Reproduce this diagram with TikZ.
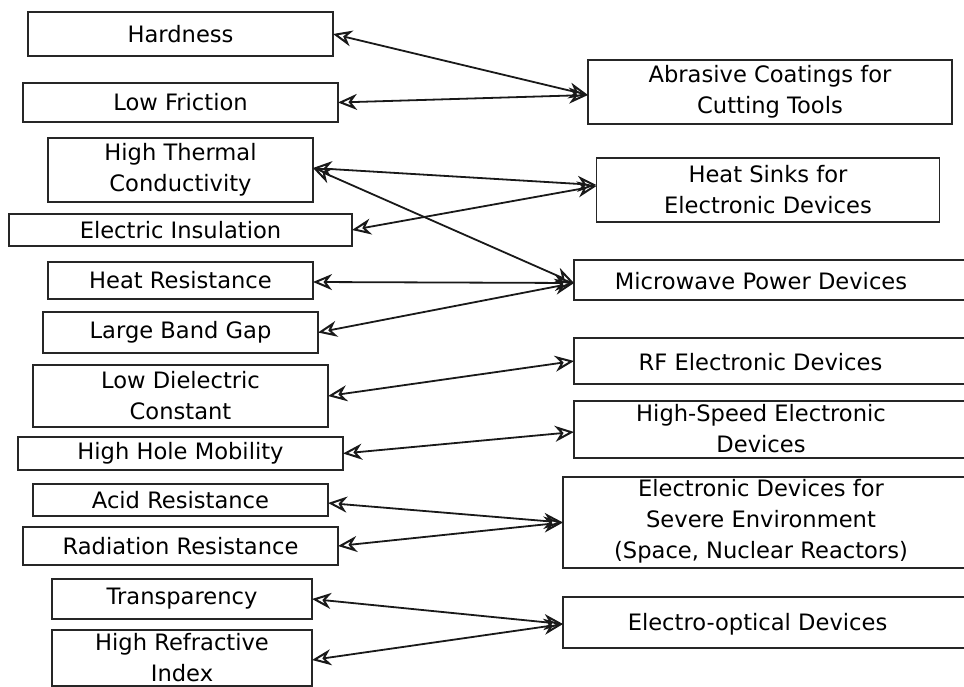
\documentclass[tikz,border=0pt]{standalone}
\usepackage{fontspec}
\setmainfont{DejaVu Sans}
\usetikzlibrary{arrows.meta}
\newcommand\diagfont{\fontsize{22.6}{31}\selectfont}
\begin{document}
\begin{tikzpicture}[x=1pt,y=-1pt,
  bx/.style={draw=black!85, line width=1.8pt, inner sep=0pt, outer sep=0pt, align=center, font=\diagfont, rectangle},
  lbl/.style={inner sep=0pt, align=center, font=\diagfont},
  conn/.style={line width=1.8pt, black!90,
    {Stealth[open,length=19pt,width=16pt,inset=6pt,line width=2pt]}-{Stealth[open,length=19pt,width=16pt,inset=6pt,line width=2pt]}}]
\useasboundingbox (0,0) rectangle (964,687);
% left boxes
\node[bx, minimum width=305, minimum height=44] (hard) at (180.5,34) {Hardness};
\node[bx, minimum width=315, minimum height=39] (fric) at (180.5,102.5) {Low Friction};
\node[bx, minimum width=265, minimum height=64] (therm) at (180.5,170) {High Thermal\\Conductivity};
\node[bx, minimum width=343, minimum height=32] (ins) at (180.5,230) {Electric Insulation};
\node[bx, minimum width=265, minimum height=37] (heat) at (180.5,280.5) {Heat Resistance};
\node[bx, minimum width=275, minimum height=41] (gap) at (180.5,332.5) {Large Band Gap};
\node[bx, minimum width=295, minimum height=62] (diel) at (180.5,396) {Low Dielectric\\Constant};
\node[bx, minimum width=325, minimum height=33] (hole) at (180.5,453.5) {High Hole Mobility};
\node[bx, minimum width=295, minimum height=32] (acid) at (180.5,500) {Acid Resistance};
\node[bx, minimum width=315, minimum height=38] (rad) at (180.5,546) {Radiation Resistance};
\node[bx, minimum width=260, minimum height=40] (trans) at (182,599) {Transparency};
\node[bx, minimum width=260, minimum height=56] (refr) at (182,658) {High Refractive\\Index};
% right boxes
\node[bx, minimum width=364, minimum height=64] (abr) at (770,92) {Abrasive Coatings for\\Cutting Tools};
\node[bx, minimum width=343, minimum height=64] (sink) at (768,190) {Heat Sinks for\\Electronic Devices};
\node[bx, minimum width=411, minimum height=40] (micro) at (779.5,280) {};
\node[lbl] (microtext) at (761,281) {Microwave Power Devices};
\node[bx, minimum width=411, minimum height=46] (rf) at (779.5,361) {};
\node[lbl] (rftext) at (760.5,362) {RF Electronic Devices};
\node[bx, minimum width=411, minimum height=57] (speed) at (779.5,429.5) {};
\node[lbl] (speedtext) at (761,429) {High-Speed Electronic\\Devices};
\node[bx, minimum width=422, minimum height=91] (severe) at (774,522.5) {};
\node[lbl] (severetext) at (761,521) {Electronic Devices for\\Severe Environment\\(Space, Nuclear Reactors)};
\node[bx, minimum width=422, minimum height=51] (eo) at (774,622.5) {};
\node[lbl] (eotext) at (757.5,624) {Electro-optical Devices};
% connectors
\draw[conn] (hard.east) -- ([yshift=-3pt]abr.west);
\draw[conn] (fric.east) -- ([yshift=-3pt]abr.west);
\draw[conn] ([yshift=2pt]therm.east) -- ([yshift=5pt]sink.west);
\draw[conn] (ins.east) -- ([yshift=4pt]sink.west);
\draw[conn] ([yshift=2pt]therm.east) -- ([yshift=-3pt]micro.west);
\draw[conn] ([yshift=-1.5pt]heat.east) -- ([yshift=-3pt]micro.west);
\draw[conn] (gap.east) -- ([yshift=-3pt]micro.west);
\draw[conn] (diel.east) -- (rf.west);
\draw[conn] (hole.east) -- ([yshift=-2.5pt]speed.west);
\draw[conn] ([yshift=-3pt]acid.east) -- (severe.west);
\draw[conn] (rad.east) -- (severe.west);
\draw[conn] (trans.east) -- ([yshift=-1.5pt]eo.west);
\draw[conn] ([yshift=-2pt]refr.east) -- ([yshift=-1.5pt]eo.west);
\end{tikzpicture}
\end{document}
